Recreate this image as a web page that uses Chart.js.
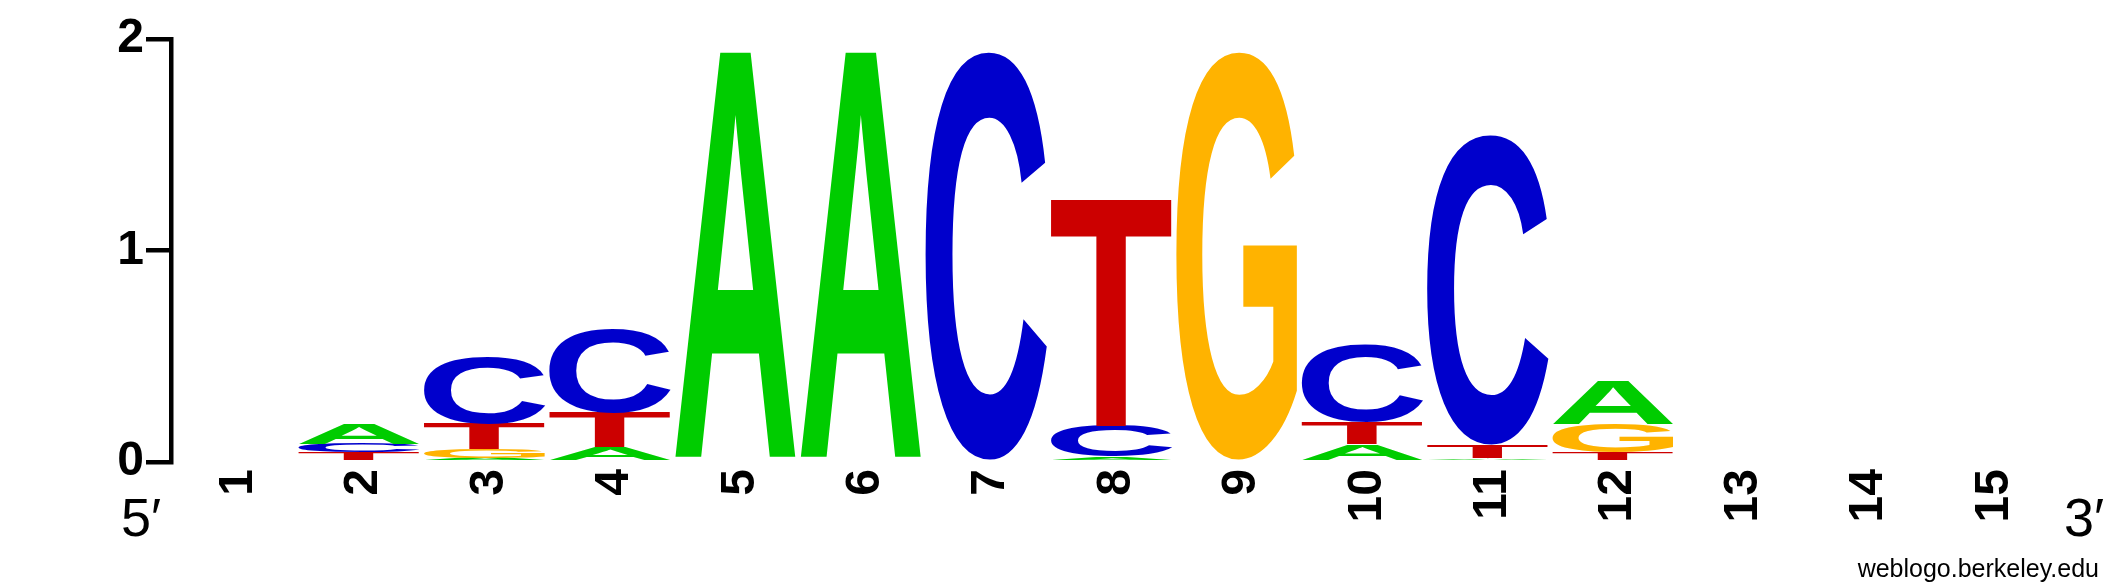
<!DOCTYPE html>
<html>
<head>
<meta charset="utf-8">
<script src="https://cdn.jsdelivr.net/npm/chart.js@4.4.1/dist/chart.umd.min.js"></script>
<style>
    html, body { margin: 0; padding: 0; background: #fff; }
    #wrap { width: 2125px; height: 588px; position: relative; }
</style>
</head>
<body>
<div id="wrap"><canvas id="logo"></canvas></div>
<script>
// positions along the motif
const positions = ['1', '2', '3', '4', '5', '6', '7', '8', '9', '10', '11', '12', '13', '14', '15'];

// information (bits) carried by each base at each position
const bitsA = [0, 0.097, 0.020, 0.071, 1.94, 1.94, 0, 0.024, 0, 0.084, 0.019, 0.205, 0, 0, 0];
const bitsC = [0, 0.040, 0.320, 0.400, 0, 0, 1.94, 0.146, 0, 0.365, 1.465, 0, 0, 0, 0];
const bitsG = [0, 0.010, 0.042, 0, 0, 0, 0, 0, 1.94, 0, 0, 0.134, 0, 0, 0];
const bitsT = [0, 0.036, 0.120, 0.161, 0, 0, 0, 1.080, 0, 0.105, 0.063, 0.046, 0, 0, 0];

const yTicks = [0, 1, 2];

const letterColors = { A: '#00cc00', C: '#0000cc', G: '#ffb300', T: '#cc0000' };

// ── build stacked datasets: rank 0 = smallest letter (bottom of the stack) ──
const perBase = { A: bitsA, C: bitsC, G: bitsG, T: bitsT };
const ranked = positions.map(function (p, i) {
    return Object.keys(perBase)
        .map(function (b) { return { letter: b, value: perBase[b][i] }; })
        .sort(function (a, b) { return a.value - b.value; });
});
const datasets = [0, 1, 2, 3].map(function (r) {
    return {
        label: 'rank ' + r,
        data: ranked.map(function (col) { return col[r].value; }),
        letters: ranked.map(function (col) { return col[r].letter; }),
        backgroundColor: 'rgba(0,0,0,0)',
        borderWidth: 0,
        barPercentage: 0.968,
        categoryPercentage: 1.0,
    };
});

function drawGlyph(ctx, ch, left, top, w, h, color) {
    ctx.save();
    ctx.font = 'bold 200px "Liberation Sans", Arial, sans-serif';
    ctx.textAlign = 'left';
    ctx.textBaseline = 'alphabetic';
    const m = ctx.measureText(ch);
    const gw = m.actualBoundingBoxLeft + m.actualBoundingBoxRight;
    const gh = m.actualBoundingBoxAscent + m.actualBoundingBoxDescent;
    ctx.translate(left, top);
    ctx.scale(w / gw, h / gh);
    ctx.fillStyle = color;
    ctx.fillText(ch, m.actualBoundingBoxLeft, m.actualBoundingBoxAscent);
    ctx.restore();
}

// letters stretched into each bar rectangle
const letterPlugin = {
    id: 'letters',
    afterDatasetsDraw(chart) {
        const ctx = chart.ctx;
        chart.data.datasets.forEach(function (ds, di) {
            chart.getDatasetMeta(di).data.forEach(function (bar, i) {
                const p = bar.getProps(['x', 'y', 'base', 'width'], true);
                const h = Math.abs(p.base - p.y);
                if (h < 0.4) return;
                const letter = ds.letters[i];
                drawGlyph(ctx, letter, p.x - p.width / 2, Math.min(p.y, p.base), p.width, h, letterColors[letter]);
            });
        });
    },
};

// 5' / 3' ends and the credit line
const notePlugin = {
    id: 'notes',
    afterDraw(chart) {
        const ctx = chart.ctx;
        const area = chart.chartArea;
        ctx.save();
        ctx.fillStyle = '#000';
        ctx.textBaseline = 'middle';
        ctx.textAlign = 'center';
        ctx.font = '54px "Liberation Sans", Arial, sans-serif';
        ctx.fillText('5\u2032', area.left - 30, 521);
        ctx.fillText('3\u2032', area.right + 32, 521);
        ctx.font = '25px "Liberation Sans", Arial, sans-serif';
        ctx.textAlign = 'right';
        ctx.textBaseline = 'alphabetic';
        ctx.fillText('weblogo.berkeley.edu', 2099, 577);
        ctx.restore();
    },
};

new Chart(document.getElementById('logo'), {
    type: 'bar',
    data: { labels: positions, datasets: datasets },
    options: {
        responsive: true,
        maintainAspectRatio: false,
        animation: false,
        devicePixelRatio: 1,
        layout: { padding: { top: 39, right: 73, bottom: 0, left: 0 } },
        plugins: {
            legend: { display: false },
            tooltip: { enabled: false },
        },
        scales: {
            x: {
                stacked: true,
                grid: { display: false, drawTicks: false },
                border: { display: false },
                ticks: {
                    autoSkip: false,
                    minRotation: 90,
                    maxRotation: 90,
                    padding: 7,
                    labelOffset: 5,
                    color: '#000',
                    font: { family: '"Liberation Sans", Arial, sans-serif', size: 48, weight: 'bold' },
                },
                afterFit: function (scale) { scale.height = 126; },
            },
            y: {
                stacked: true,
                min: 0,
                max: 2,
                afterBuildTicks: function (scale) {
                    scale.ticks = yTicks.map(function (v) { return { value: v }; });
                },
                grid: {
                    drawOnChartArea: false,
                    drawTicks: true,
                    tickLength: 25,
                    lineWidth: 4.5,
                    tickWidth: 4.5,
                    tickColor: '#000',
                    color: '#000',
                },
                border: { display: true, color: '#000', width: 4.5 },
                ticks: {
                    padding: 2,
                    color: '#000',
                    font: { family: '"Liberation Sans", Arial, sans-serif', size: 48, weight: 'bold' },
                },
                afterFit: function (scale) { scale.width = 171; },
            },
        },
    },
    plugins: [letterPlugin, notePlugin],
});
</script>
</body>
</html>
